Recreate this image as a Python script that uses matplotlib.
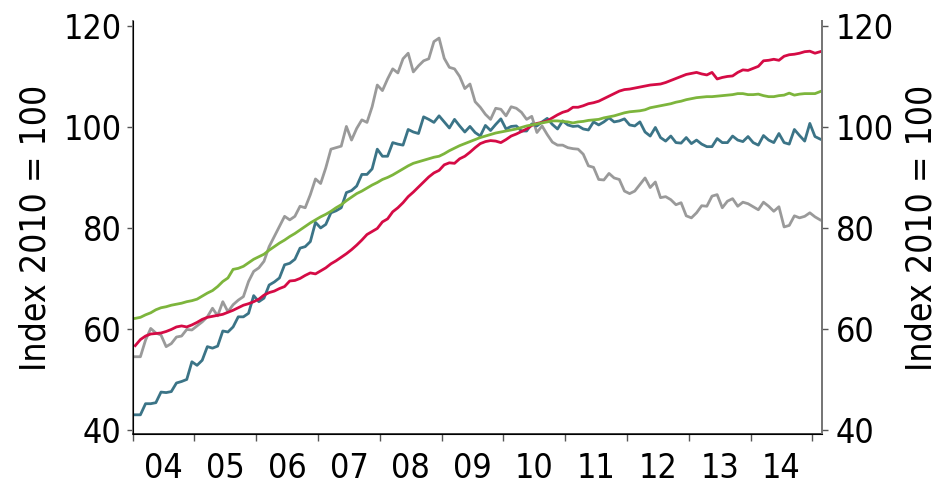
import numpy as np
import matplotlib
matplotlib.use("Agg")
import matplotlib.pyplot as plt
from matplotlib.ticker import FixedLocator, NullFormatter

# monthly data, Jan 2004 - Feb 2015 (Index 2010 = 100)
grey = [54.5, 54.5, 57.8, 60.1, 59.2, 58.8, 56.5, 57.1, 58.4, 58.6, 59.9, 59.8,
        60.6, 61.4, 62.4, 64.1, 62.6, 65.4, 63.4, 64.8, 65.7, 66.4, 69.4, 71.4,
        72.1, 73.4, 76.3, 78.3, 80.3, 82.3, 81.6, 82.3, 84.3, 84.0, 86.6, 89.7,
        88.8, 91.9, 95.6, 95.9, 96.2, 100.1, 97.4, 99.7, 101.4, 100.9, 104.0, 108.3,
        107.2, 109.5, 111.5, 110.7, 113.5, 114.6, 110.9, 112.1, 113.1, 113.5, 116.9, 117.6,
        113.6, 111.8, 111.5, 110.0, 107.6, 108.5, 105.0, 103.9, 102.5, 101.5, 103.7, 103.5,
        102.2, 104.0, 103.7, 102.9, 101.5, 102.1, 98.9, 100.2, 98.5, 97.0, 96.4, 96.4,
        95.9, 95.7, 95.6, 94.6, 92.3, 92.0, 89.6, 89.5, 90.8, 89.9, 89.6, 87.3,
        86.8, 87.3, 88.6, 89.9, 88.0, 89.1, 86.0, 86.2, 85.6, 84.6, 85.0, 82.4,
        82.0, 83.0, 84.4, 84.3, 86.3, 86.6, 84.0, 85.3, 85.8, 84.3, 85.1, 84.8,
        84.2, 83.6, 85.1, 84.3, 83.3, 84.2, 80.2, 80.5, 82.4, 82.0, 82.3, 83.0,
        82.2, 81.6]

blue = [43.0, 43.0, 45.2, 45.2, 45.4, 47.5, 47.4, 47.6, 49.3, 49.6, 50.0, 53.5,
        52.8, 53.8, 56.5, 56.2, 56.6, 59.6, 59.4, 60.4, 62.4, 62.4, 63.1, 66.6,
        65.4, 66.1, 68.7, 69.3, 70.1, 72.7, 73.0, 73.8, 76.0, 76.3, 77.3, 81.1,
        80.0, 80.7, 83.0, 83.4, 84.0, 87.0, 87.4, 88.3, 90.6, 90.6, 91.7, 95.6,
        94.2, 94.2, 96.9, 96.6, 96.4, 99.5, 99.0, 98.7, 102.0, 101.5, 100.9, 102.2,
        101.0, 99.8, 101.5, 100.2, 99.0, 100.1, 98.9, 98.2, 100.3, 99.3, 100.5, 101.6,
        99.6, 100.1, 100.2, 99.2, 99.2, 100.6, 100.2, 101.0, 101.7, 100.5, 99.6, 101.2,
        100.4, 100.1, 100.2, 99.6, 99.4, 101.0, 100.4, 101.0, 101.8, 101.0, 101.2, 101.6,
        100.4, 100.2, 101.0, 99.0, 98.2, 99.9, 97.9, 97.2, 98.2, 96.9, 96.8, 97.9,
        96.7, 97.4, 96.6, 96.1, 96.1, 97.7, 96.9, 96.9, 98.2, 97.4, 97.1, 98.1,
        96.9, 96.4, 98.3, 97.4, 96.9, 98.7, 96.9, 96.6, 99.5, 98.3, 97.2, 100.7,
        98.1, 97.6]

red = [56.7, 57.9, 58.6, 59.0, 59.1, 59.2, 59.5, 59.9, 60.4, 60.6, 60.4, 60.8,
       61.3, 61.9, 62.3, 62.5, 62.7, 62.9, 63.3, 63.7, 64.2, 64.7, 65.0, 65.4,
       65.9, 66.7, 67.2, 67.5, 68.0, 68.4, 69.5, 69.6, 70.0, 70.6, 71.1, 70.9,
       71.5, 72.1, 72.9, 73.5, 74.2, 74.9, 75.7, 76.6, 77.6, 78.7, 79.3, 79.9,
       81.2, 81.8, 83.2, 84.0, 85.0, 86.2, 87.1, 88.1, 89.1, 90.1, 90.9, 91.4,
       92.5, 92.9, 92.8, 93.7, 94.2, 95.0, 95.9, 96.7, 97.1, 97.3, 97.2, 96.9,
       97.5, 98.2, 98.6, 99.1, 99.6, 100.3, 100.7, 100.9, 101.2, 101.8, 102.4, 102.9,
       103.2, 103.9, 103.9, 104.2, 104.6, 104.8, 105.1, 105.6, 106.1, 106.6, 107.1, 107.4,
       107.5, 107.7, 107.9, 108.1, 108.3, 108.4, 108.5, 108.8, 109.2, 109.6, 110.0, 110.4,
       110.6, 110.8, 110.5, 110.3, 110.8, 109.5, 109.8, 110.0, 110.1, 110.8, 111.3, 111.2,
       111.6, 112.0, 113.1, 113.2, 113.4, 113.2, 114.0, 114.3, 114.4, 114.6, 114.9, 115.0,
       114.6, 114.9]

green = [62.1, 62.3, 62.8, 63.2, 63.8, 64.2, 64.4, 64.7, 64.9, 65.1, 65.4, 65.6,
         65.9, 66.5, 67.1, 67.6, 68.4, 69.4, 70.1, 71.8, 72.0, 72.4, 73.1, 73.8,
         74.3, 74.8, 75.6, 76.3, 77.0, 77.6, 78.3, 78.9, 79.6, 80.3, 81.0, 81.6,
         82.2, 82.7, 83.3, 84.0, 84.6, 85.4, 86.1, 86.8, 87.3, 87.9, 88.5, 89.0,
         89.6, 90.0, 90.5, 91.1, 91.7, 92.3, 92.8, 93.1, 93.4, 93.7, 94.0, 94.2,
         94.7, 95.3, 95.8, 96.3, 96.7, 97.1, 97.5, 97.9, 98.2, 98.5, 98.8, 99.0,
         99.2, 99.4, 99.6, 99.9, 100.2, 100.4, 100.6, 100.8, 101.0, 101.2, 101.2, 101.1,
         101.0, 100.8, 101.0, 101.1, 101.3, 101.4, 101.5, 101.8, 102.0, 102.2, 102.5, 102.8,
         103.0, 103.1, 103.2, 103.4, 103.8, 104.0, 104.2, 104.4, 104.6, 104.9, 105.1, 105.4,
         105.6, 105.8, 105.9, 106.0, 106.0, 106.1, 106.2, 106.3, 106.4, 106.6, 106.6, 106.4,
         106.4, 106.5, 106.2, 106.0, 106.0, 106.2, 106.3, 106.7, 106.3, 106.5, 106.6, 106.6,
         106.6, 107.0]

years = list(range(2004, 2015))
year_labels = ["04", "05", "06", "07", "08", "09", "10", "11", "12", "13", "14"]
yticks = [40, 60, 80, 100, 120]

plt.rcParams['font.family'] = ['DejaVu Sans']
plt.rcParams['font.stretch'] = 'condensed'

# month centres as decimal years
t = 2004 + (np.arange(len(grey)) + 0.5) / 12

fig = plt.figure(figsize=(9.45, 4.86), dpi=100)
ax = fig.add_axes([0.1404, 0.107, 0.7291, 0.85])

lw = 2.0
ax.plot(t, grey, color='#9a9a9a', lw=lw)
ax.plot(t, blue, color='#3b7487', lw=lw)
ax.plot(t, red, color='#d50b45', lw=lw)
ax.plot(t, green, color='#7db53c', lw=lw)

ax.set_xlim(2004.0, 2015.15)
ax.set_ylim(39.2, 121)

# year boundary ticks, labels in the middle of each year
ax.xaxis.set_major_locator(FixedLocator(years + [2015]))
ax.xaxis.set_major_formatter(NullFormatter())
ax.xaxis.set_minor_locator(FixedLocator([y + 0.5 for y in years]))
ax.set_xticklabels(year_labels, minor=True)
ax.tick_params(axis='x', which='major', direction='out', length=5, width=1, color='#555555')
ax.tick_params(axis='x', which='minor', length=0, pad=13, labelsize=24.5)

ax.set_yticks(yticks)
ax.tick_params(axis='y', direction='out', length=4, width=1, color='#555555',
               labelsize=24.5, pad=4)

for s in ['left', 'right']:
    ax.spines[s].set_color('#777777')
    ax.spines[s].set_linewidth(1.4)
ax.spines['bottom'].set_color('#222222')
ax.spines['bottom'].set_linewidth(1.2)
ax.spines['top'].set_visible(False)
ax.set_ylabel('Index 2010 = 100', fontsize=25.5, labelpad=8)

# right hand axis, same scale
ax2 = ax.twinx()
ax2.set_ylim(ax.get_ylim())
ax2.set_yticks(yticks)
ax2.tick_params(axis='y', direction='out', length=4, width=1, color='#555555',
                labelsize=24.5, pad=6)
ax2.spines['top'].set_visible(False)
ax2.spines['right'].set_color('#777777')
ax2.spines['right'].set_linewidth(1.4)
ax2.set_ylabel('Index 2010 = 100', fontsize=25.5, rotation=90, labelpad=8)

fig.savefig('out.png', dpi=100)
